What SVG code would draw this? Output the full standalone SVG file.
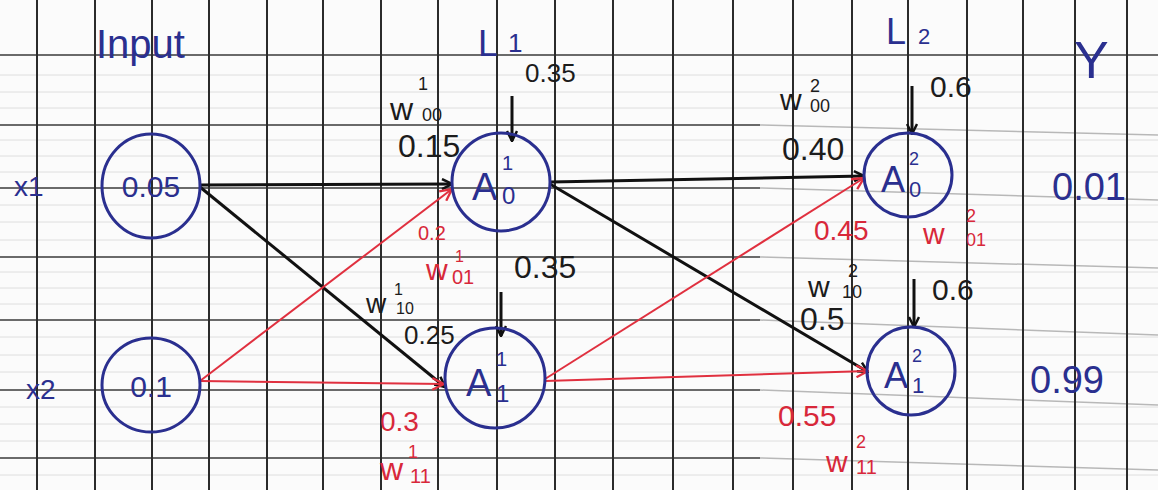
<svg xmlns="http://www.w3.org/2000/svg" width="1158" height="490" viewBox="0 0 1158 490">
<defs>
<style>
.vg{stroke:#2b2b2b;stroke-width:2}
.hg{stroke:#6a6a6a;stroke-width:2}
.hl{stroke:#b8b8b8;stroke-width:1.5}
.fg{stroke:#dedede;stroke-width:1}
.node{fill:none;stroke:#2a2f8f;stroke-width:3}
.blue{fill:#2a2f8f;font-family:"Liberation Sans",Arial,sans-serif}
.blk{fill:#1c1c1c;font-family:"Liberation Sans",Arial,sans-serif}
.red{fill:#d8283a;font-family:"Liberation Sans",Arial,sans-serif}
.eb{stroke:#111;stroke-width:3;fill:none}
.er{stroke:#e0303f;stroke-width:2;fill:none}
</style>
<marker id="ab" viewBox="0 0 12 12" refX="11" refY="6" markerWidth="12" markerHeight="12" markerUnits="userSpaceOnUse" orient="auto"><path d="M1,1 L11,6 L1,11" fill="none" stroke="#111" stroke-width="2.5"/></marker>
<marker id="ar" viewBox="0 0 12 12" refX="11" refY="6" markerWidth="14" markerHeight="14" markerUnits="userSpaceOnUse" orient="auto"><path d="M1,1 L11,6 L1,11" fill="none" stroke="#e0303f" stroke-width="2"/></marker>
</defs>
<rect width="1158" height="490" fill="#fbfbfb"/>
<g id="grid">
<g class="fg">
<line x1="0" y1="75" x2="1158" y2="75"/><line x1="0" y1="92" x2="1158" y2="92"/><line x1="0" y1="108" x2="1158" y2="108"/>
<line x1="0" y1="140" x2="1158" y2="140"/><line x1="0" y1="156" x2="1158" y2="156"/><line x1="0" y1="172" x2="1158" y2="172"/>
<line x1="0" y1="205" x2="1158" y2="205"/><line x1="0" y1="222" x2="1158" y2="222"/><line x1="0" y1="240" x2="1158" y2="240"/>
<line x1="0" y1="272" x2="1158" y2="272"/><line x1="0" y1="288" x2="1158" y2="288"/><line x1="0" y1="304" x2="1158" y2="304"/>
<line x1="0" y1="337" x2="1158" y2="337"/><line x1="0" y1="355" x2="1158" y2="355"/><line x1="0" y1="372" x2="1158" y2="372"/>
<line x1="0" y1="407" x2="1158" y2="407"/><line x1="0" y1="424" x2="1158" y2="424"/><line x1="0" y1="441" x2="1158" y2="441"/>
<line x1="0" y1="475" x2="1158" y2="475"/>
</g>
<g class="hl">
<line x1="760" y1="125" x2="1158" y2="135"/><line x1="760" y1="188" x2="1158" y2="200"/>
<line x1="760" y1="257" x2="1158" y2="268"/><line x1="760" y1="320" x2="1158" y2="335"/><line x1="760" y1="390" x2="1158" y2="405"/><line x1="760" y1="458" x2="1158" y2="470"/>
</g>
<g class="hg">
<line x1="0" y1="55" x2="1158" y2="55"/><line x1="0" y1="125" x2="760" y2="125"/><line x1="0" y1="188" x2="760" y2="188"/>
<line x1="0" y1="257" x2="760" y2="257"/><line x1="0" y1="320" x2="760" y2="320"/><line x1="0" y1="390" x2="760" y2="390"/><line x1="0" y1="458" x2="760" y2="458"/>
</g>
<g class="vg">
<line x1="37" y1="0" x2="37" y2="490"/><line x1="95" y1="0" x2="95" y2="490"/><line x1="152" y1="0" x2="152" y2="490"/>
<line x1="209" y1="0" x2="209" y2="490"/><line x1="267" y1="0" x2="267" y2="490"/><line x1="323" y1="0" x2="323" y2="490"/>
<line x1="381" y1="0" x2="381" y2="490"/><line x1="438" y1="0" x2="438" y2="490"/><line x1="497" y1="0" x2="497" y2="490"/>
<line x1="555" y1="0" x2="555" y2="490"/><line x1="613" y1="0" x2="613" y2="490"/><line x1="673" y1="0" x2="673" y2="490"/>
<line x1="733" y1="0" x2="733" y2="490"/><line x1="793" y1="0" x2="793" y2="490"/><line x1="852" y1="0" x2="852" y2="490"/>
<line x1="908" y1="0" x2="908" y2="490"/><line x1="967" y1="0" x2="967" y2="490"/><line x1="1023" y1="0" x2="1023" y2="490"/>
<line x1="1075" y1="0" x2="1075" y2="490"/><line x1="1127" y1="0" x2="1127" y2="490"/>
</g>
</g>
<g id="headers">
<text class="blue" x="96" y="58" font-size="40">Input</text>
<text class="blue" x="478" y="56" font-size="36">L</text><text class="blue" x="508" y="52" font-size="26">1</text>
<text class="blue" x="886" y="44" font-size="36">L</text><text class="blue" x="918" y="44" font-size="22">2</text>
<text class="blue" x="1074" y="78" font-size="52">Y</text>
</g>
<g id="connectors">
<line class="eb" x1="200" y1="185" x2="452" y2="184" marker-end="url(#ab)"/>
<line class="eb" x1="200" y1="187" x2="445" y2="387" marker-end="url(#ab)"/>
<line class="er" x1="200" y1="381" x2="452" y2="189" marker-end="url(#ar)"/>
<line class="er" x1="200" y1="381" x2="444" y2="384" marker-end="url(#ar)"/>
<line class="eb" x1="550" y1="182" x2="864" y2="176" marker-end="url(#ab)"/>
<line class="eb" x1="550" y1="184" x2="868" y2="372" marker-end="url(#ab)"/>
<line class="er" x1="545" y1="379" x2="864" y2="178" marker-end="url(#ar)"/>
<line class="er" x1="545" y1="381" x2="868" y2="371" marker-end="url(#ar)"/>
<line class="eb" x1="512" y1="96" x2="512" y2="141" stroke-width="2" marker-end="url(#ab)"/>
<line class="eb" x1="501" y1="292" x2="501" y2="336" stroke-width="2" marker-end="url(#ab)"/>
<line class="eb" x1="912" y1="86" x2="912" y2="134" stroke-width="2" marker-end="url(#ab)"/>
<line class="eb" x1="914" y1="279" x2="914" y2="327" stroke-width="2" marker-end="url(#ab)"/>
</g>
<g id="x1">
<ellipse class="node" cx="151" cy="186" rx="49" ry="52"/>
<text class="blue" x="151" y="197" font-size="30" text-anchor="middle">0.05</text>
<text class="blue" x="14" y="196" font-size="28">x1</text>
</g>
<g id="x2">
<ellipse class="node" cx="151" cy="385" rx="49" ry="47"/>
<text class="blue" x="151" y="397" font-size="30" text-anchor="middle">0.1</text>
<text class="blue" x="26" y="399" font-size="28">x2</text>
</g>
<g id="A10">
<circle class="node" cx="501" cy="182" r="49"/>
<text class="blue" x="472" y="200" font-size="38">A</text>
<text class="blue" x="502" y="170" font-size="20">1</text>
<text class="blue" x="502" y="204" font-size="24">0</text>
</g>
<g id="A11">
<circle class="node" cx="495" cy="378" r="50"/>
<text class="blue" x="466" y="396" font-size="38">A</text>
<text class="blue" x="496" y="366" font-size="20">1</text>
<text class="blue" x="496" y="402" font-size="24">1</text>
</g>
<g id="A20">
<ellipse class="node" cx="908" cy="175" rx="44" ry="42"/>
<text class="blue" x="881" y="192" font-size="36">A</text>
<text class="blue" x="909" y="165" font-size="18">2</text>
<text class="blue" x="909" y="197" font-size="22">0</text>
</g>
<g id="A21">
<circle class="node" cx="911" cy="371" r="44"/>
<text class="blue" x="884" y="388" font-size="36">A</text>
<text class="blue" x="912" y="362" font-size="18">2</text>
<text class="blue" x="912" y="393" font-size="22">1</text>
</g>
<g id="outputs">
<text class="blue" x="1052" y="200" font-size="38">0.01</text>
<text class="blue" x="1030" y="393" font-size="38">0.99</text>
</g>
<g id="labels">
<text class="blk" x="390" y="120" font-size="32">w</text><text class="blk" x="418" y="90" font-size="18">1</text><text class="blk" x="422" y="121" font-size="18">00</text>
<text class="blk" x="398" y="157" font-size="32">0.15</text>
<text class="blk" x="525" y="82" font-size="26">0.35</text>
<text class="red" x="418" y="240" font-size="20">0.2</text><text class="red" x="455" y="262" font-size="16">1</text>
<text class="red" x="426" y="280" font-size="30">w</text><text class="red" x="452" y="284" font-size="20">01</text>
<text class="blk" x="514" y="278" font-size="32">0.35</text>
<text class="blk" x="366" y="313" font-size="28">w</text><text class="blk" x="394" y="295" font-size="16">1</text><text class="blk" x="396" y="314" font-size="16">10</text>
<text class="blk" x="404" y="344" font-size="26">0.25</text>
<text class="red" x="380" y="431" font-size="28">0.3</text>
<text class="red" x="380" y="480" font-size="32">w</text><text class="red" x="408" y="458" font-size="18">1</text><text class="red" x="410" y="483" font-size="20">11</text>
<text class="blk" x="780" y="110" font-size="30">w</text><text class="blk" x="810" y="92" font-size="18">2</text><text class="blk" x="810" y="112" font-size="18">00</text>
<text class="blk" x="782" y="160" font-size="32">0.40</text>
<text class="blk" x="930" y="97" font-size="30">0.6</text>
<text class="red" x="814" y="240" font-size="28">0.45</text>
<text class="red" x="923" y="244" font-size="30">w</text><text class="red" x="966" y="222" font-size="18">2</text><text class="red" x="966" y="246" font-size="18">01</text>
<text class="blk" x="808" y="297" font-size="30">w</text><text class="blk" x="848" y="277" font-size="18">2</text><text class="blk" x="842" y="298" font-size="18">10</text>
<text class="blk" x="800" y="330" font-size="32">0.5</text>
<text class="blk" x="932" y="300" font-size="30">0.6</text>
<text class="red" x="778" y="426" font-size="30">0.55</text>
<text class="red" x="826" y="472" font-size="30">w</text><text class="red" x="856" y="448" font-size="18">2</text><text class="red" x="856" y="474" font-size="20">11</text>
</g>
</svg>
